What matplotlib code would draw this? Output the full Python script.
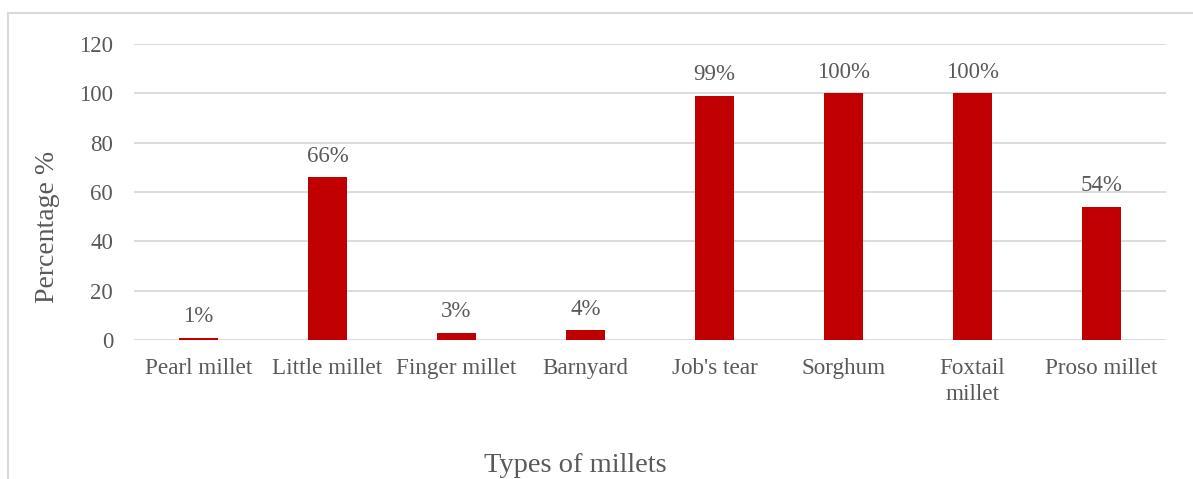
import matplotlib.pyplot as plt
from matplotlib.patches import Rectangle

plt.rcParams['font.family'] = ['Liberation Serif', 'DejaVu Serif']

millets = ["Pearl millet", "Little millet", "Finger millet", "Barnyard",
           "Job's tear", "Sorghum", "Foxtail\nmillet", "Proso millet"]
percent = [1, 66, 3, 4, 99, 100, 100, 54]
yticks = [0, 20, 40, 60, 80, 100, 120]

W, H = 1193, 479
fig = plt.figure(figsize=(W / 100, H / 100), dpi=100)
ax = fig.add_axes([134 / W, (H - 340) / H, (1166 - 134) / W, (340 - 44) / H])

grey = '#595959'
grid = '#D9D9D9'

x = range(len(millets))
bars = ax.bar(x, percent, width=0.31, color='#C00000', zorder=3)
for b, v in zip(bars, percent):
    ax.annotate(f'{v}%', (b.get_x() + b.get_width() / 2, v),
                xytext=(0, 7.5), textcoords='offset points',
                ha='center', va='bottom', fontsize=16.5, color=grey)

ax.set_xlim(-0.5, len(millets) - 0.5)
ax.set_ylim(0, 120)
ax.set_yticks(yticks)
ax.set_xticks(list(x))
ax.set_xticklabels(millets, linespacing=1.3)
ax.tick_params(axis='y', length=0, pad=15, labelsize=16.5, labelcolor=grey)
ax.tick_params(axis='x', length=0, pad=13, labelsize=16.7, labelcolor=grey)
ax.yaxis.grid(True, color=grid, linewidth=1.3, zorder=0)
for s in ax.spines.values():
    s.set_visible(False)

fig.text(48 / W, 1 - 227 / H, 'Percentage %', rotation=90,
         ha='center', va='center', fontsize=20, color=grey)
fig.text(575 / W, 7 / H, 'Types of millets', ha='center', va='baseline',
         fontsize=20.5, color=grey)

# chart frame, only its top and left edges fall inside the image
fig.patches.append(Rectangle((8 / W, -0.1), 1.2, 1 - 13 / H + 0.1,
                             transform=fig.transFigure, fill=False,
                             edgecolor=grid, linewidth=1.5))

fig.savefig('out.png', dpi=100)
